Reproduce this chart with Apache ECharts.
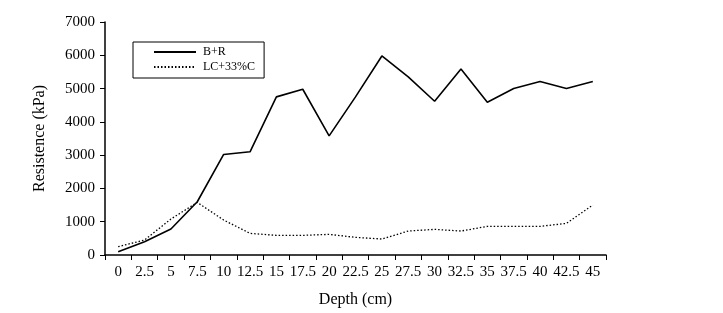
<!DOCTYPE html>
<html>
<head>
<meta charset="utf-8">
<script src="https://cdn.jsdelivr.net/npm/echarts@6/dist/echarts.min.js"></script>
<style>
    html, body { margin: 0; padding: 0; background: #fff; }
    #chart { width: 723px; height: 313px; }
</style>
</head>
<body>
<div id="chart"></div>
<script>
const depths = ['0', '2.5', '5', '7.5', '10', '12.5', '15', '17.5', '20', '22.5',
    '25', '27.5', '30', '32.5', '35', '37.5', '40', '42.5', '45'];
const bR = [100, 400, 780, 1600, 3020, 3100, 4750, 4980, 3580, 4750,
    5980, 5350, 4620, 5590, 4590, 5000, 5210, 5000, 5210];
const lc33 = [250, 450, 1080, 1580, 1050, 650, 590, 590, 620, 530,
    480, 720, 770, 720, 860, 860, 860, 950, 1500];

let chart = echarts.init(document.getElementById('chart'));
const font = 'Liberation Serif';

let option = {
    animation: false,
    textStyle: { fontFamily: font, color: '#000' },
    legend: {
        left: 133,
        top: 42,
        orient: 'vertical',
        width: 120,
        padding: [4, 9, 5, 20],
        itemGap: 3,
        itemWidth: 42,
        itemHeight: 10,
        borderColor: '#000',
        borderWidth: 1,
        itemStyle: { opacity: 0 },
        textStyle: { fontFamily: font, fontSize: 12, color: '#000', padding: [0, 0, 0, 2] },
        data: ['B+R', 'LC+33%C']
    },
    grid: { left: 105, right: 117, top: 22, bottom: 58 },
    xAxis: {
        type: 'category',
        data: depths,
        boundaryGap: true,
        name: 'Depth (cm)',
        nameLocation: 'middle',
        nameGap: 37,
        nameTextStyle: { fontFamily: font, fontSize: 16, color: '#000' },
        axisLine: { lineStyle: { color: '#000', width: 1.5 } },
        axisTick: { show: true, interval: 0, length: 5, lineStyle: { color: '#000' } },
        axisLabel: { interval: 0, fontFamily: font, fontSize: 15, color: '#000', margin: 10 },
        splitLine: { show: false }
    },
    yAxis: {
        type: 'value',
        min: 0,
        max: 7000,
        interval: 1000,
        name: 'Resistence (kPa)',
        nameLocation: 'middle',
        nameGap: 57,
        nameTextStyle: { fontFamily: font, fontSize: 16, color: '#000' },
        axisLine: { show: true, lineStyle: { color: '#000', width: 1.5 } },
        axisTick: { show: true, length: 5, lineStyle: { color: '#000' } },
        axisLabel: {
            fontFamily: font, fontSize: 15, color: '#000', margin: 10,
            formatter: function (v) { return String(v); }
        },
        splitLine: { show: false }
    },
    series: [
        {
            name: 'B+R',
            type: 'line',
            data: bR,
            symbol: 'none',
            color: '#000',
            lineStyle: { color: '#000', width: 1.6 }
        },
        {
            name: 'LC+33%C',
            type: 'line',
            data: lc33,
            symbol: 'none',
            color: '#000',
            lineStyle: { color: '#000', width: 1.3, type: [1.5, 2] }
        }
    ]
};

chart.setOption(option);
</script>
</body>
</html>
